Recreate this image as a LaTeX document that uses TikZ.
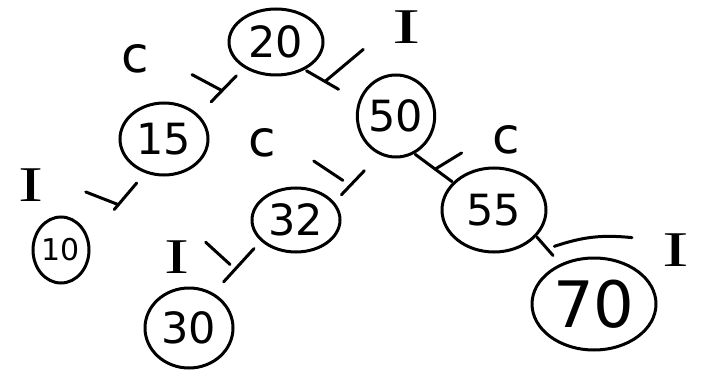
\documentclass[tikz,border=0pt]{standalone}
\usepackage{fontspec}
\usepackage{graphicx}
\setmainfont{DejaVu Sans}
\newfontfamily\slabfont{Liberation Serif}
\usetikzlibrary{shapes,calc}
\newcommand{\crossbar}[6]{%
  \path [bar] ($(#1)!#3!(#2)!#4!#6:(#2)$) -- ($(#1)!#3!(#2)!#5!#6:(#2)$);}

\begin{document}
\begin{tikzpicture}[
    x=1pt,
    y=-1pt,
    line width=3pt,
    key/.style={
      ellipse,
      draw,
      inner sep=0pt,
      font=\fontsize{43}{43}\selectfont
    },
    tag/.style={
      inner sep=0pt,
      font=\fontsize{50}{50}\selectfont
    },
    edge/.style={draw, line cap=round},
    bar/.style={draw, line cap=round},
]
    \useasboundingbox (0,0) rectangle (708,371);

    \node [key, minimum width=94pt, minimum height=66pt] (n20) at (276,42) {20};
    \node [key, minimum width=88pt, minimum height=72pt] (n15) at (164,139) {15};
    \node [key, minimum width=76pt, minimum height=82pt] (n50) at (396,116) {50};
    \node [key, minimum width=56pt, minimum height=66pt, font=\fontsize{30}{30}\selectfont] (n10) at (61,250) {10};
    \node [key, minimum width=88pt, minimum height=64pt] (n32) at (296,220) {32};
    \node [key, minimum width=104pt, minimum height=84pt] (n55) at (494,210) {55};
    \node [key, minimum width=88pt, minimum height=80pt] (n30) at (189,328) {30};
    \node [key, minimum width=124pt, minimum height=92pt, font=\fontsize{64}{64}\selectfont] (n70) at (594,304) {70};

    \node [tag] (c1) at (135,59) {c};
    \node [tag] (c2) at (262,143) {c};
    \node [tag] (c3) at (506,140) {c};
    \node [tag] (i1) at (407,27) {\slabfont\scalebox{1.7}[1]{I}};
    \node [tag] (i2) at (31,185) {\slabfont\scalebox{1.5}[1]{I}};
    \node [tag] (i3) at (177,257) {\slabfont\scalebox{1.5}[1]{I}};
    \node [tag] (i4) at (676,250) {\slabfont\scalebox{1.6}[1]{I}};

    \path [edge, shorten <=11pt, shorten >=18pt] (n20.219) -- (n15.35);
    \path [edge, shorten <=2pt, shorten >=23pt] (n20.-44) -- (n50.158);
    \path [edge, shorten <=13pt, shorten >=39pt] (n15.241) -- (n10.21);
    \path [edge, shorten <=22pt, shorten >=10pt] (n50.247) -- (n32.25);
    \path [edge, shorten <=1pt, shorten >=1pt] (n50.-64) -- (n55.146);
    \path [edge, shorten <=10pt, shorten >=15pt] (n32.211) -- (n30.55);
    \path [edge, shorten <=1pt, shorten >=11pt] (n55.-32) -- (n70.130);

    % crossbars on the edges
    \crossbar{n20.219}{n15.35}{.485}{0pt}{34pt}{-74}
    \crossbar{n20.-44}{n50.158}{.377}{0pt}{50pt}{70}
    \crossbar{n15.241}{n10.21}{.477}{0pt}{35pt}{-71}
    \crossbar{n50.247}{n32.25}{.647}{9pt}{44pt}{-80}
    \crossbar{n50.-64}{n55.146}{.54}{0pt}{31pt}{68}
    \crossbar{n32.211}{n30.55}{.54}{7pt}{40pt}{-90}
    \path [bar] ($(n55.-32)!.53!(n70.130)!7pt!90:(n70.130)$) to [bend left=12] ($(n55.-32)!.53!(n70.130)!84pt!58:(n70.130)$);

\end{tikzpicture}
\end{document}
